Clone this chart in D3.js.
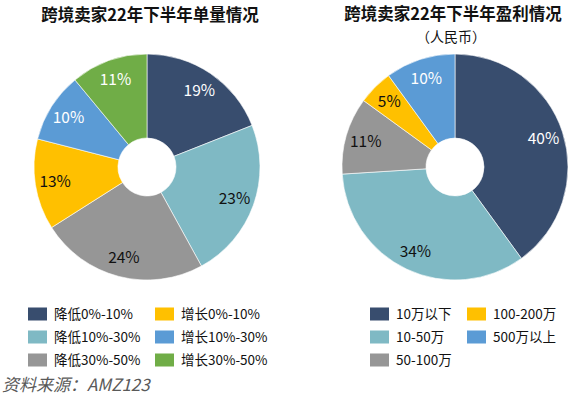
<!DOCTYPE html>
<html>
<head>
<meta charset="utf-8">
<script src="https://cdn.jsdelivr.net/npm/d3@7"></script>
<style>
  html, body { margin: 0; padding: 0; background: #fff; }
  svg { display: block; font-family: "Microsoft YaHei", "Noto Sans CJK SC", sans-serif; }
</style>
</head>
<body>
<svg id="chart" width="579" height="397"></svg>
<script>
// --- data ---
const orderLabels = ["降低0%-10%", "降低10%-30%", "降低30%-50%", "增长0%-10%", "增长10%-30%", "增长30%-50%"];
const orderValues = [19, 23, 24, 13, 10, 11];
const profitLabels = ["10万以下", "10-50万", "50-100万", "100-200万", "500万以上"];
const profitValues = [40, 34, 11, 5, 10];
const colors = ["#384d6e", "#7fb9c4", "#969696", "#ffc000", "#5b9bd5", "#70ad47"];
const darkText = [false, true, true, true, false, false];

const svg = d3.select("#chart");

function donut(cx, cy, labels, values) {
  const pie = d3.pie().sort(null).value(d => d)(values);
  const arc = d3.arc().innerRadius(29).outerRadius(113);
  const lab = d3.arc().innerRadius(93).outerRadius(93);
  const g = svg.append("g").attr("transform", `translate(${cx},${cy})`);
  g.selectAll("path").data(pie).enter().append("path")
    .attr("d", arc)
    .attr("fill", (d, i) => colors[i])
    .attr("stroke", "#fff").attr("stroke-width", 0.6);
  g.selectAll("text").data(pie).enter().append("text")
    .attr("transform", d => `translate(${lab.centroid(d)})`)
    .attr("text-anchor", "middle").attr("dy", "0.36em")
    .attr("font-size", 15.5)
    .attr("fill", (d, i) => darkText[i] ? "#111" : "#fff")
    .text(d => d.data + "%");
}

function legend(x0, colX, labels) {
  const rows = [314, 337, 360];
  labels.forEach((t, i) => {
    const col = Math.floor(i / 3), row = i % 3;
    const x = x0 + col * colX, y = rows[row];
    svg.append("rect").attr("x", x).attr("y", y - 6.5)
      .attr("width", 19).attr("height", 13).attr("fill", colors[i]);
    svg.append("text").attr("x", x + 26).attr("y", y).attr("dy", "0.36em")
      .attr("font-size", 13.5).attr("fill", "#111").text(t);
  });
}

// titles
svg.append("text").attr("x", 150).attr("y", 21).attr("text-anchor", "middle")
  .attr("font-size", 16.5).attr("font-weight", "bold").attr("fill", "#111")
  .text("跨境卖家22年下半年单量情况");
svg.append("text").attr("x", 453).attr("y", 20).attr("text-anchor", "middle")
  .attr("font-size", 16.5).attr("font-weight", "bold").attr("fill", "#111")
  .text("跨境卖家22年下半年盈利情况");
svg.append("text").attr("x", 451).attr("y", 42).attr("text-anchor", "middle")
  .attr("font-size", 14).attr("fill", "#111")
  .text("（人民币）");

donut(147, 167, orderLabels, orderValues);
donut(455, 167, profitLabels, profitValues);

legend(28, 127, orderLabels);
legend(370, 97, profitLabels);

// source
svg.append("text").attr("x", 2).attr("y", 391)
  .attr("font-size", 17).attr("font-style", "italic").attr("fill", "#595959")
  .text("资料来源：AMZ123");
</script>
</body>
</html>
